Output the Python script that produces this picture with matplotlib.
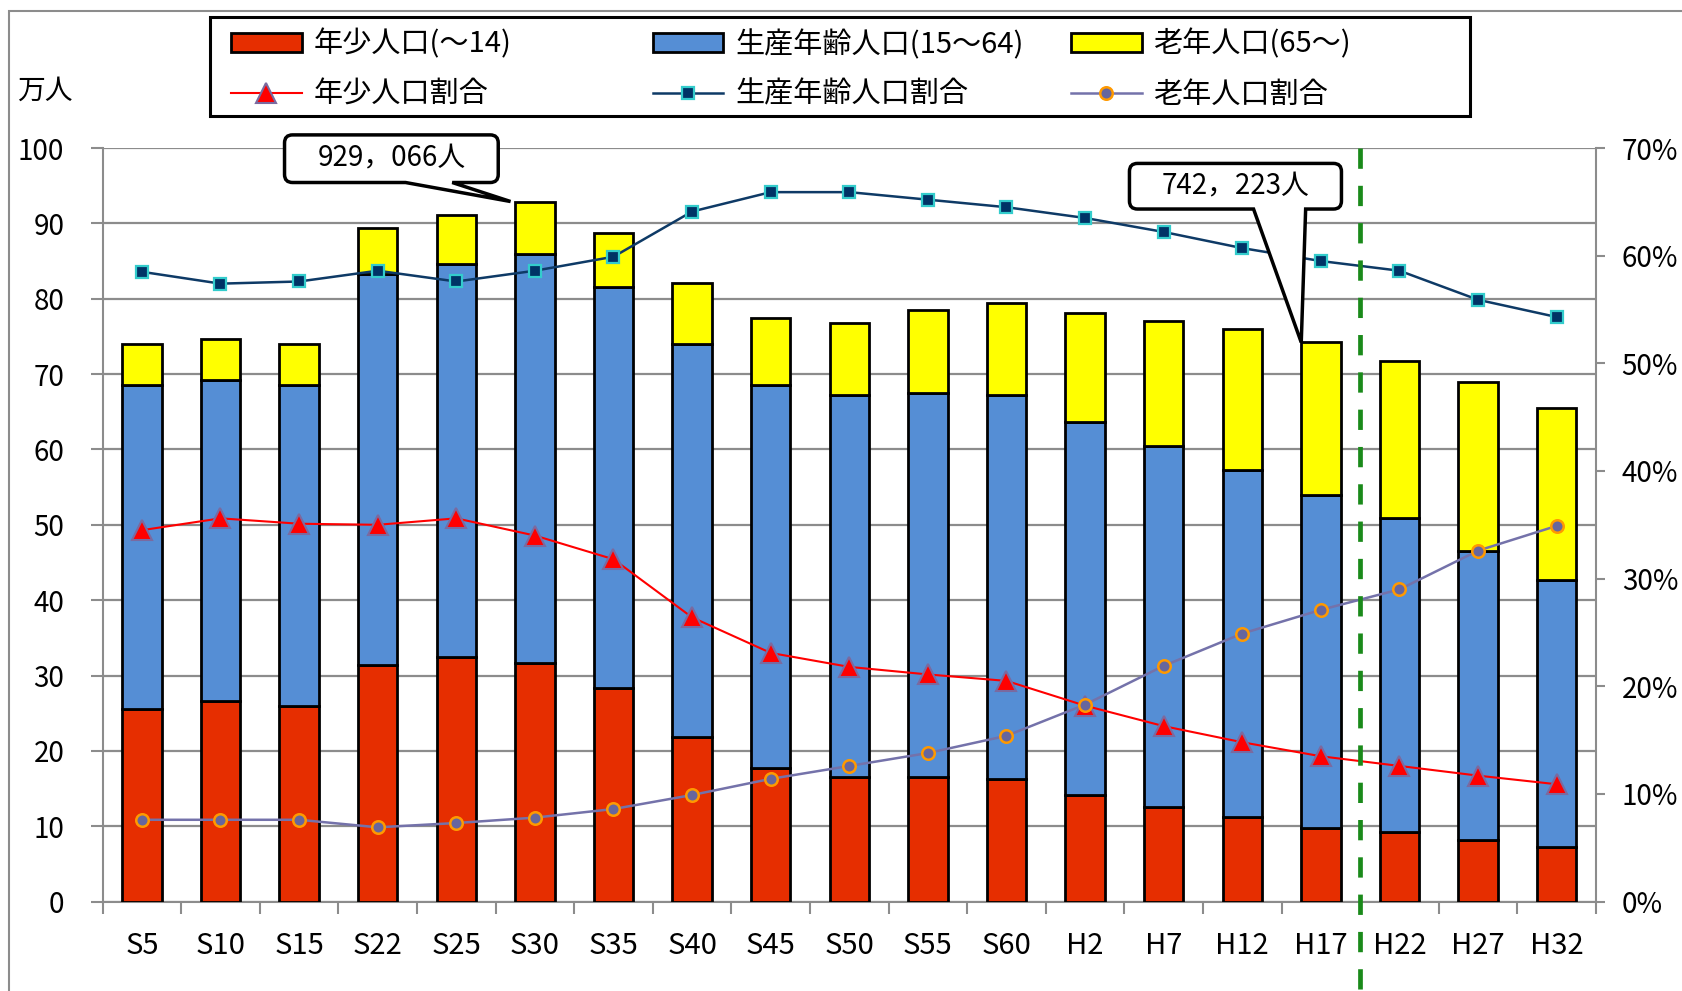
import numpy as np
import matplotlib
matplotlib.use('Agg')
import matplotlib.pyplot as plt
from matplotlib.patches import Patch, Rectangle, PathPatch
from matplotlib.lines import Line2D
from matplotlib.path import Path
from matplotlib.transforms import ScaledTranslation

plt.rcParams['font.family'] = ['Noto Sans CJK JP', 'DejaVu Sans']

# =============================================================================
# DATA (万人 / %)
# =============================================================================

years = ['S5', 'S10', 'S15', 'S22', 'S25', 'S30', 'S35', 'S40', 'S45', 'S50',
         'S55', 'S60', 'H2', 'H7', 'H12', 'H17', 'H22', 'H27', 'H32']

young = [25.6, 26.6, 26.0, 31.4, 32.5, 31.7, 28.4, 21.8, 17.7, 16.6,
         16.6, 16.3, 14.2, 12.5, 11.2, 9.8, 9.2, 8.2, 7.2]
working = [42.9, 42.6, 42.5, 51.9, 52.1, 54.2, 53.1, 52.2, 50.8, 50.6,
           50.9, 50.9, 49.5, 47.9, 46.1, 44.1, 41.7, 38.3, 35.5]
elderly = [5.5, 5.5, 5.5, 6.1, 6.5, 7.0, 7.2, 8.1, 8.9, 9.6,
           11.0, 12.2, 14.4, 16.7, 18.7, 20.3, 20.8, 22.4, 22.8]

young_pct = [34.5, 35.6, 35.1, 35.0, 35.6, 34.0, 31.8, 26.4, 23.1, 21.8,
             21.1, 20.5, 18.2, 16.3, 14.8, 13.5, 12.6, 11.7, 10.9]
working_pct = [58.5, 57.4, 57.6, 58.6, 57.6, 58.6, 59.9, 64.1, 65.9, 65.9,
               65.2, 64.5, 63.5, 62.2, 60.7, 59.5, 58.6, 55.9, 54.3]
elderly_pct = [7.6, 7.6, 7.6, 6.9, 7.3, 7.8, 8.6, 9.9, 11.4, 12.6,
               13.8, 15.4, 18.3, 21.9, 24.9, 27.1, 29.0, 32.6, 34.9]

labels_bar = ['年少人口(～14)', '生産年齢人口(15～64)', '老年人口(65～)']
labels_line = ['年少人口割合', '生産年齢人口割合', '老年人口割合']

# callouts: (category, text)
notes = [('S30', '929，066人'), ('H17', '742，223人')]
split_after = 'H17'   # estimates start after this year

# =============================================================================
# STYLE
# =============================================================================

W, H = 1683, 991
c_red, c_blue, c_yel = '#E62E00', '#558ED5', '#FFFF00'
grey = '#8C8C8C'

fig = plt.figure(figsize=(W / 100, H / 100), dpi=100)
ax = fig.add_axes([102.6 / W, 89.4 / H, (1596 - 102.6) / W, (901.6 - 148) / H])

x = np.arange(len(years))
young = np.array(young)
working = np.array(working)
elderly = np.array(elderly)
total = young + working + elderly

bw = 0.5
ax.bar(x, young, width=bw, color=c_red, edgecolor='black', lw=2, zorder=3)
ax.bar(x, working, bottom=young, width=bw, color=c_blue, edgecolor='black', lw=2, zorder=3)
ax.bar(x, elderly, bottom=young + working, width=bw, color=c_yel, edgecolor='black', lw=2, zorder=3)

ax.set_xlim(-0.5, len(years) - 0.5)
ax.set_ylim(0, 100)
ax.set_axisbelow(True)
ax.yaxis.grid(True, color=grey, lw=1.6)
ax.set_yticks(np.arange(0, 101, 10))

ax.set_xticks(np.arange(-0.5, len(years), 1))
ax.set_xticks(x, labels=years, minor=True)
ax.tick_params(axis='x', which='major', length=8.6, width=1.5, color=grey, labelbottom=False)
ax.tick_params(axis='x', which='minor', length=0, pad=21, labelsize=21)
ax.tick_params(axis='y', length=8.6, width=1.5, color=grey, pad=19, labelsize=20)
for s in ['top', 'right']:
    ax.spines[s].set_visible(False)
for s in ['left', 'bottom']:
    ax.spines[s].set_color(grey)
    ax.spines[s].set_linewidth(1.5)

ax2 = ax.twinx()
ax2.set_ylim(0, 70)
ax2.set_yticks(np.arange(0, 71, 10))
ax2.set_yticklabels([f'{v}%' for v in range(0, 71, 10)])
ax2.tick_params(axis='y', length=6.5, width=1.5, color=grey, pad=12, labelsize=20)
for s in ['top', 'left', 'bottom']:
    ax2.spines[s].set_visible(False)
ax2.spines['right'].set_color(grey)
ax2.spines['right'].set_linewidth(1.5)

ax2.plot(x, young_pct, color='#FF0000', lw=1.5, marker='^', ms=14,
         mfc='#FF0000', mec='#7A6AA0', mew=1.5, zorder=4)
ax2.plot(x, working_pct, color='#0E3A66', lw=1.8, marker='s', ms=8,
         mfc='#003366', mec='#33CCCC', mew=1.6, zorder=4)
ax2.plot(x, elderly_pct, color='#7472AA', lw=1.8, marker='o', ms=9,
         mfc='#66669E', mec='#FF9900', mew=1.8, zorder=5)

# dashed line between actual and projected values
xs = years.index(split_after) + 0.5
ax2.plot([xs, xs], [1, -0.3], transform=ax2.get_xaxis_transform(), clip_on=False,
         color='#1A8A1A', lw=3.4, linestyle=(0, (4.3, 3.6)), zorder=6)


def callout(cat, text, dx, box, base):
    """Rounded box with a pointer; sizes in pixels relative to the tip."""
    i = years.index(cat)
    trans = fig.dpi_scale_trans + ScaledTranslation(i + dx, total[i], ax.transData)
    l, r, b, t = box
    bl, br = base
    rad = 8
    pts = [(br, b), (0, 0), (bl, b), (l + rad, b), (l, b), (l, b + rad),
           (l, t - rad), (l, t), (l + rad, t), (r - rad, t), (r, t), (r, t - rad),
           (r, b + rad), (r, b), (r - rad, b), (br, b)]
    codes = [Path.MOVETO, Path.LINETO, Path.LINETO, Path.LINETO,
             Path.CURVE3, Path.CURVE3, Path.LINETO, Path.CURVE3, Path.CURVE3,
             Path.LINETO, Path.CURVE3, Path.CURVE3, Path.LINETO,
             Path.CURVE3, Path.CURVE3, Path.CLOSEPOLY]
    path = Path(np.array(pts) / 100.0, codes)
    ax2.add_patch(PathPatch(path, transform=trans, fc='white', ec='black',
                            lw=2.5, clip_on=False, zorder=10))
    ax2.annotate(text, xy=(i + dx, total[i]), xycoords=ax.transData,
                 xytext=((l + r) / 2, (b + t) / 2), textcoords='offset pixels',
                 ha='center', va='center', fontsize=20, zorder=11,
                 annotation_clip=False)


callout(notes[0][0], notes[0][1], -0.31, (-226, -12.3, 19, 66.6), (-105, -58.3))
callout(notes[1][0], notes[1][1], -0.25, (-171.8, 40.2, 133.4, 179), (-47.7, 4.4))

# =============================================================================
# LEGEND
# =============================================================================

h_bars = [Patch(fc=c, ec='black', lw=2) for c in (c_red, c_blue, c_yel)]
h_lines = [
    Line2D([], [], color='#FF0000', lw=1.5, marker='^', ms=14, mfc='#FF0000', mec='#7A6AA0', mew=1.5),
    Line2D([], [], color='#0E3A66', lw=1.8, marker='s', ms=8, mfc='#003366', mec='#33CCCC', mew=1.6),
    Line2D([], [], color='#7472AA', lw=1.8, marker='o', ms=9, mfc='#66669E', mec='#FF9900', mew=1.8),
]
col_x = [230.7, 652.6, 1071]
for k in range(3):
    fig.legend([h_bars[k], h_lines[k]], [labels_bar[k], labels_line[k]],
               loc='upper left', bbox_to_anchor=(col_x[k] / W, 1 - 29.5 / H),
               frameon=False, borderpad=0, borderaxespad=0, fontsize=21,
               handlelength=2.43, handleheight=0.62, handletextpad=0.4,
               labelspacing=0.68)
fig.add_artist(Rectangle((210 / W, 1 - 116 / H), (1470 - 210) / W, (116 - 17.3) / H,
                         transform=fig.transFigure, fill=False, ec='black', lw=2.2))

# outer frame (left and top edges visible)
fig.add_artist(Rectangle((9 / W, -0.1), 1.2, 1.1 - 11 / H, transform=fig.transFigure,
                         fill=False, ec=grey, lw=1.5))

fig.text(17 / W, 1 - 91 / H, '万人', fontsize=20, ha='left', va='center')

fig.savefig('out.png', dpi=100)
